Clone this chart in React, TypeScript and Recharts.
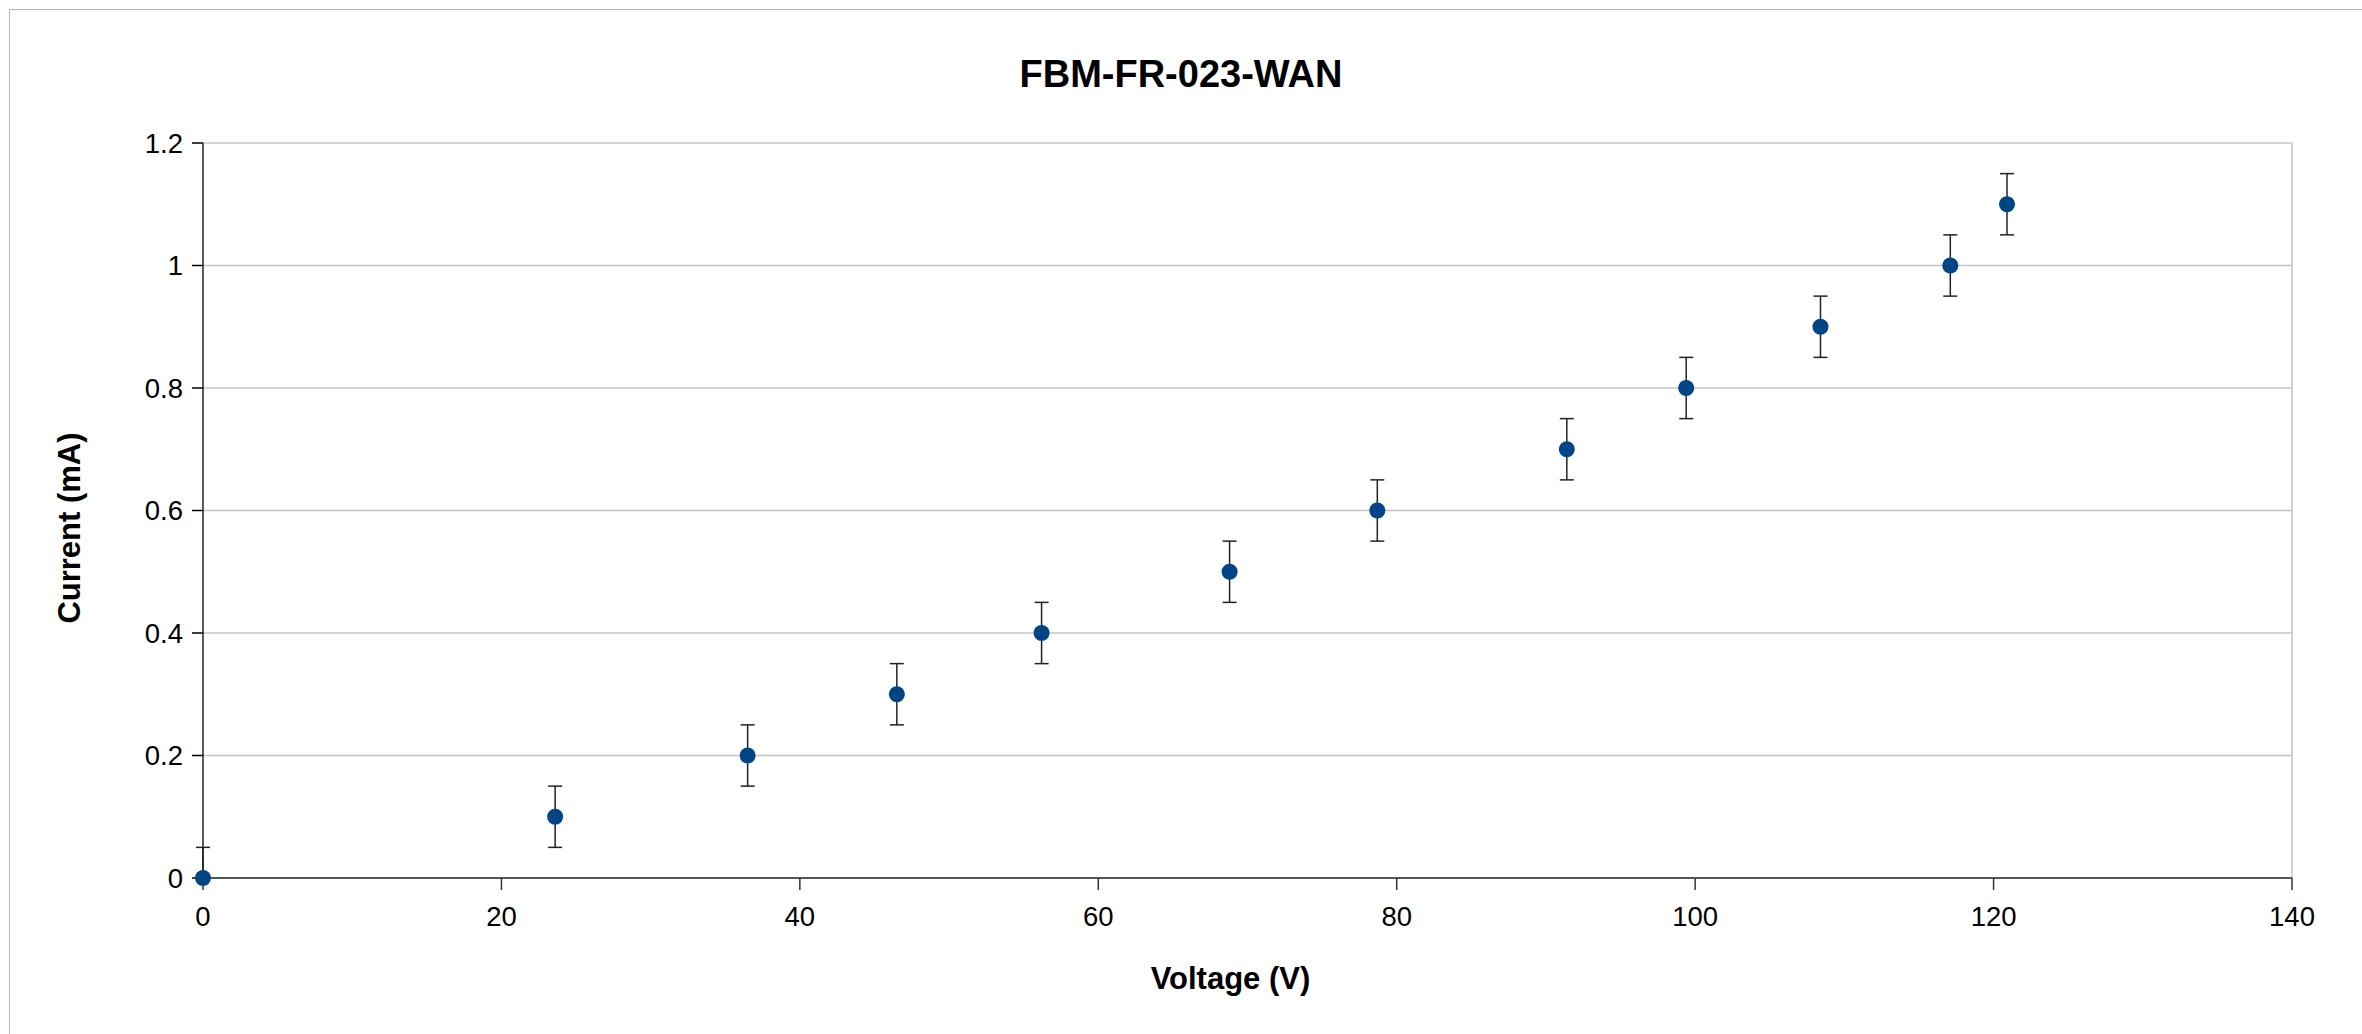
import {
  ScatterChart,
  Scatter,
  XAxis,
  YAxis,
  CartesianGrid,
  ErrorBar,
  ReferenceLine,
  Label,
} from 'recharts';

const voltage = [0, 23.6, 36.5, 46.5, 56.2, 68.8, 78.7, 91.4, 99.4, 108.4, 117.1, 120.9];
const current = [0, 0.1, 0.2, 0.3, 0.4, 0.5, 0.6, 0.7, 0.8, 0.9, 1.0, 1.1];
const errLow = [0, 0.05, 0.05, 0.05, 0.05, 0.05, 0.05, 0.05, 0.05, 0.05, 0.05, 0.05];
const errHigh = [0.05, 0.05, 0.05, 0.05, 0.05, 0.05, 0.05, 0.05, 0.05, 0.05, 0.05, 0.05];

const xTicks = [0, 20, 40, 60, 80, 100, 120, 140];
const yTicks = [0, 0.2, 0.4, 0.6, 0.8, 1, 1.2];

const data = voltage.map((v, i) => ({
  v,
  i: current[i],
  err: [errLow[i], errHigh[i]],
}));

const font = '"Liberation Sans", Arial, sans-serif';
const gridColor = '#c4c4c4';
const dotColor = '#004586';

export default function App() {
  return (
    <div
      style={{
        position: 'absolute',
        left: 0,
        top: 0,
        width: 2362,
        height: 1034,
        overflow: 'hidden',
        background: '#fff',
        fontFamily: font,
      }}
    >
      {/* frame of the chart object */}
      <div
        style={{
          position: 'absolute',
          left: 9,
          top: 9,
          width: 2353,
          height: 1025,
          boxSizing: 'border-box',
          borderLeft: '1px solid #a9bbdd',
          borderTop: '1px solid #a9bbdd',
        }}
      />
      <div
        style={{
          position: 'absolute',
          left: 0,
          top: 55,
          width: 2362,
          textAlign: 'center',
          fontSize: 38,
          lineHeight: '38px',
          fontWeight: 'bold',
          color: '#000',
        }}
      >
        FBM-FR-023-WAN
      </div>
      <div style={{ position: 'absolute', left: 0, top: 0 }}>
        <ScatterChart
          width={2362}
          height={1034}
          margin={{ top: 143, right: 70, bottom: 36, left: 63 }}
        >
          <CartesianGrid horizontal vertical={false} stroke={gridColor} strokeWidth={1.5} />
          <ReferenceLine x={140} stroke={gridColor} strokeWidth={1.5} />
          <XAxis
            type="number"
            dataKey="v"
            domain={[0, 140]}
            ticks={xTicks}
            interval={0}
            height={120}
            stroke="#555"
            strokeWidth={2}
            tickSize={12}
            tickMargin={16}
            tickLine={{ stroke: '#333', strokeWidth: 1.5 }}
            tick={{ fill: '#000', fontSize: 27.5, fontFamily: font }}
          >
            <Label
              content={({ viewBox }: any) => (
                <text
                  x={viewBox.x + viewBox.width / 2 - 17}
                  y={viewBox.y + viewBox.height - 9}
                  textAnchor="middle"
                  fontSize={31}
                  fontWeight="bold"
                  fontFamily={font}
                  fill="#000"
                >
                  Voltage (V)
                </text>
              )}
            />
          </XAxis>
          <YAxis
            type="number"
            dataKey="i"
            domain={[0, 1.2]}
            ticks={yTicks}
            interval={0}
            width={140}
            stroke="#222"
            strokeWidth={1.5}
            tickSize={11}
            tickMargin={9}
            tickLine={{ stroke: '#000', strokeWidth: 1.5 }}
            tick={{ fill: '#000', fontSize: 27.5, fontFamily: font }}
          >
            <Label
              content={({ viewBox }: any) => {
                const x = viewBox.x + 16.5;
                const y = viewBox.y + viewBox.height / 2 + 17.5;
                return (
                  <text
                    x={x}
                    y={y}
                    transform={`rotate(-90, ${x}, ${y})`}
                    textAnchor="middle"
                    fontSize={31}
                    fontWeight="bold"
                    fontFamily={font}
                    fill="#000"
                  >
                    Current (mA)
                  </text>
                );
              }}
            />
          </YAxis>
          <Scatter
            data={data}
            isAnimationActive={false}
            shape={(p: any) => <circle cx={p.cx} cy={p.cy} r={8} fill={dotColor} />}
          />
          {/* second pass so the error bars sit on top of the dots */}
          <Scatter
            data={data}
            isAnimationActive={false}
            shape={() => <g />}
          >
            <ErrorBar
              dataKey="err"
              direction="y"
              width={7}
              stroke="#222"
              strokeWidth={1.5}
              isAnimationActive={false}
            />
          </Scatter>
        </ScatterChart>
      </div>
    </div>
  );
}
